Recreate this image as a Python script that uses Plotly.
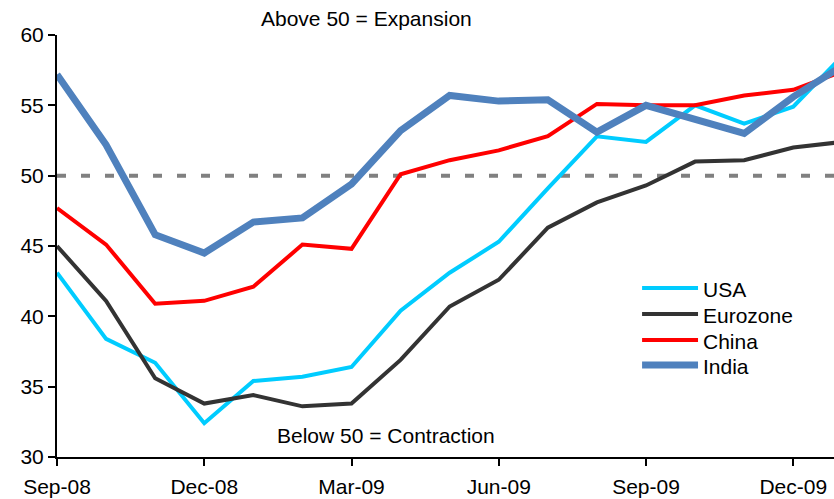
import plotly.graph_objects as go

months = ["Sep-08", "Oct-08", "Nov-08", "Dec-08", "Jan-09", "Feb-09", "Mar-09", "Apr-09",
          "May-09", "Jun-09", "Jul-09", "Aug-09", "Sep-09", "Oct-09", "Nov-09", "Dec-09", "Jan-10"]
tick_labels = ["Sep-08", "Dec-08", "Mar-09", "Jun-09", "Sep-09", "Dec-09"]

usa = [43.1, 38.4, 36.7, 32.4, 35.4, 35.7, 36.4, 40.4, 43.1, 45.3, 49.1, 52.8, 52.4, 55.0, 53.7, 54.9, 58.5]
eurozone = [45.0, 41.1, 35.6, 33.8, 34.4, 33.6, 33.8, 36.9, 40.7, 42.6, 46.3, 48.1, 49.3, 51.0, 51.1, 52.0, 52.4]
china = [47.7, 45.1, 40.9, 41.1, 42.1, 45.1, 44.8, 50.1, 51.1, 51.8, 52.8, 55.1, 55.0, 55.0, 55.7, 56.1, 57.4]
india = [57.2, 52.2, 45.8, 44.5, 46.7, 47.0, 49.4, 53.2, 55.7, 55.3, 55.4, 53.1, 55.0, 54.0, 53.0, 55.6, 57.8]

threshold = 50
y_range = [30, 60]
y_ticks = [30, 35, 40, 45, 50, 55, 60]

series = [
    ("USA", usa, "#00CCFF", 4),
    ("Eurozone", eurozone, "#333333", 4),
    ("China", china, "#FF0000", 4),
    ("India", india, "#4F81BD", 7),
]

FONT = "Liberation Sans, Arial, sans-serif"
FS = 21
fig = go.Figure()

for name, vals, color, w in series:
    fig.add_trace(go.Scatter(x=months, y=vals, mode="lines", name=name,
                             line=dict(color=color, width=w), showlegend=False,
                             hoverinfo="x+y+name"))

# threshold line
fig.add_shape(type="line", xref="paper", x0=0, x1=1, yref="y", y0=threshold, y1=threshold,
              line=dict(color="#808080", width=4, dash="9px,15px"), layer="below")

# manual legend
leg_y = [0.4005, 0.339, 0.277, 0.218]
for (name, vals, color, w), ly in zip(series, leg_y):
    fig.add_shape(type="line", xref="paper", yref="paper", x0=0.753, x1=0.825, y0=ly, y1=ly,
                  line=dict(color=color, width=w))
    fig.add_annotation(xref="paper", yref="paper", x=0.829, y=ly - 0.004, text=name,
                       showarrow=False, xanchor="left", yanchor="middle",
                       font=dict(size=FS, color="black", family=FONT))

fig.add_annotation(xref="paper", yref="paper", x=0.3977, y=1.038, text="Above 50 = Expansion",
                   showarrow=False, xanchor="center", yanchor="middle",
                   font=dict(size=FS, color="black", family=FONT))
fig.add_annotation(xref="paper", yref="paper", x=0.4234, y=0.052, text="Below 50 = Contraction",
                   showarrow=False, xanchor="center", yanchor="middle",
                   font=dict(size=FS, color="black", family=FONT))

fig.update_layout(
    width=834, height=499,
    margin=dict(l=57, r=0, t=35, b=42, autoexpand=False),
    paper_bgcolor="white", plot_bgcolor="white",
    font=dict(family=FONT, size=FS, color="black"),
    showlegend=False,
)
fig.update_xaxes(type="category", range=[0, 15.83], tickmode="array", tickvals=tick_labels,
                 ticktext=tick_labels, showline=True, linecolor="black", linewidth=2,
                 ticks="outside", ticklen=7, tickwidth=2, tickcolor="black",
                 showgrid=False, zeroline=False, tickfont=dict(size=FS),
                 ticklabelstandoff=3, automargin=False)
fig.update_yaxes(range=y_range, tickmode="array", tickvals=y_ticks, showline=True,
                 linecolor="black", linewidth=2, ticks="outside", ticklen=7, tickwidth=2,
                 tickcolor="black", showgrid=False, zeroline=False, tickfont=dict(size=FS),
                 automargin=False)

fig.write_html("out.html", config={"displayModeBar": False},
               post_script="document.body.style.margin='0';document.body.style.overflow='hidden';")
